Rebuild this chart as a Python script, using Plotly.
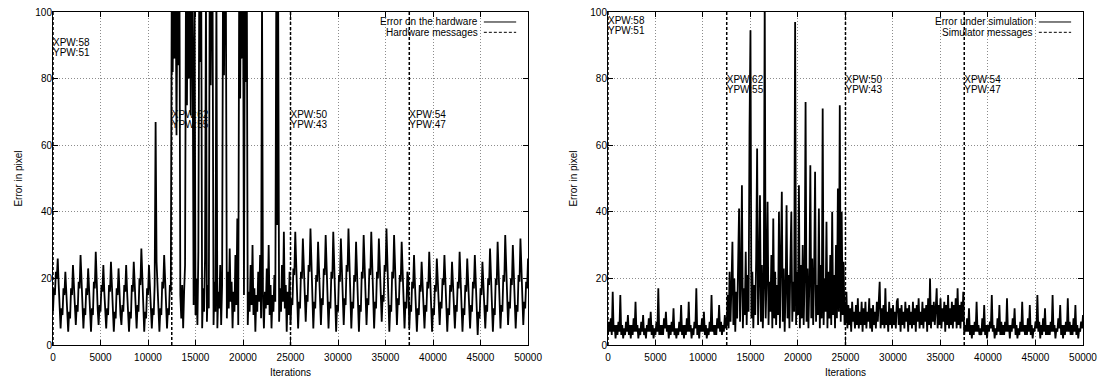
import plotly.graph_objects as go

# Error samples, one every STEP iterations (0 .. 50000), split into four
# stretches separated by the messages sent at 12500, 25000 and 37500.
STEP = 100

hardware_error_a = [
    10, 17, 15, 22, 20, 26, 18, 11,
    5, 11, 9, 17, 15, 22, 15, 10,
    4, 10, 8, 17, 15, 24, 16, 10,
    6, 12, 10, 19, 17, 27, 18, 11,
    5, 11, 9, 17, 15, 23, 15, 10,
    4, 11, 9, 19, 17, 28, 18, 11,
    6, 12, 10, 18, 16, 24, 16, 10,
    5, 11, 9, 18, 16, 25, 17, 11,
    4, 10, 8, 17, 15, 23, 15, 9,
    6, 12, 10, 18, 16, 24, 16, 10,
    4, 10, 8, 18, 16, 25, 17, 10,
    5, 12, 10, 20, 18, 29, 19, 11,
    4, 10, 8, 17, 15, 24, 16, 10,
    5, 11, 9, 18, 67, 25, 17, 10,
    4, 11, 9, 19, 17, 27, 18, 11,
    5, 11, 9, 18, 16,
]

hardware_error_b = [
    108, 82, 125, 86, 118, 63, 112, 84, 121,
    15, 8, 18, 5, 16, 24,
    112, 72, 126, 80, 118, 69, 122, 90,
    12, 108, 9,
    20, 6, 28,
    115, 85, 110,
    5, 17, 10, 26,
    106,
    7, 18, 11,
    118, 78, 124, 102,
    6, 19, 10,
    107,
    5, 16, 11, 24, 6, 18,
    114, 81, 120, 104,
    8, 22, 11, 29, 13, 19, 5, 16, 10, 27, 12, 38, 6,
    112, 74, 125, 86, 116,
    15,
    110, 79, 108,
    6, 16, 10, 24, 12, 30, 9, 17, 4, 15, 10, 22, 13, 27, 8,
    105,
    14, 5, 16, 11, 23, 12, 30, 9, 18, 5, 15, 10, 21, 13,
    106, 36, 104,
    7, 17, 10, 24, 13, 34, 11, 18, 4, 16, 9, 22,
]

hardware_error_c = [
    6, 14, 12, 23, 21, 34, 24, 15,
    5, 13, 11, 22, 20, 32, 22, 13,
    7, 15, 13, 24, 22, 35, 25, 16,
    5, 13, 11, 21, 19, 31, 21, 12,
    6, 14, 12, 23, 21, 33, 23, 14,
    5, 13, 11, 22, 20, 34, 24, 15,
    4, 12, 10, 21, 19, 32, 22, 13,
    6, 14, 12, 24, 22, 35, 25, 16,
    5, 13, 11, 21, 19, 31, 21, 12,
    4, 12, 10, 22, 20, 33, 23, 14,
    6, 14, 12, 23, 21, 34, 24, 15,
    5, 13, 11, 22, 20, 32, 22, 13,
    7, 15, 13, 24, 22, 35, 25, 16,
    4, 12, 10, 22, 20, 33, 23, 14,
    6, 14, 12, 21, 19, 31, 21, 12,
    5, 13, 11, 22, 20,
]

hardware_error_d = [
    5, 12, 10, 19, 17, 27, 18, 10,
    4, 11, 9, 18, 16, 25, 16, 8,
    5, 12, 10, 19, 17, 28, 19, 11,
    4, 11, 9, 18, 16, 26, 17, 9,
    6, 13, 11, 20, 18, 27, 18, 10,
    4, 11, 9, 18, 16, 25, 16, 8,
    5, 12, 10, 19, 17, 28, 19, 11,
    4, 11, 9, 18, 16, 26, 17, 9,
    5, 12, 10, 19, 17, 27, 18, 10,
    3, 10, 8, 17, 15, 25, 16, 8,
    5, 12, 10, 20, 18, 29, 20, 12,
    4, 11, 9, 20, 18, 31, 22, 13,
    5, 12, 10, 21, 19, 33, 24, 15,
    6, 13, 11, 20, 18, 30, 21, 12,
    5, 12, 10, 21, 19, 32, 23, 14,
    6, 13, 11, 19, 17, 26,
]

simulation_error_a = [
    3, 7, 4, 8, 3, 16, 4, 6,
    2, 6, 3, 7, 4, 15, 3, 6,
    2, 5, 3, 7, 4, 9, 3, 6,
    2, 6, 3, 8, 4, 13, 4, 6,
    2, 5, 3, 7, 4, 9, 3, 5,
    2, 6, 4, 8, 4, 10, 3, 6,
    2, 5, 3, 7, 4, 17, 3, 6,
    3, 6, 3, 8, 5, 10, 4, 6,
    2, 6, 3, 7, 4, 11, 3, 5,
    2, 5, 3, 7, 4, 12, 3, 6,
    2, 6, 3, 8, 4, 13, 4, 6,
    2, 5, 3, 7, 5, 17, 3, 6,
    2, 6, 4, 8, 4, 10, 3, 6,
    2, 5, 3, 7, 4, 15, 4, 6,
    3, 6, 3, 8, 5, 12, 4, 7,
    3, 6, 4, 9, 5,
]

simulation_error_b = [
    6, 15, 5, 22, 7, 18, 31, 6, 20, 4,
    16, 8, 25, 41, 7, 19, 48, 5, 17, 9,
    28, 6, 21, 10, 65, 94.5, 8, 22, 5, 18,
    9, 26, 59, 6, 20, 45, 7, 24, 5, 17,
    105, 8, 21, 43, 6, 19, 10, 27, 5, 38,
    8, 22, 6, 18, 9, 40, 5, 20, 46, 7,
    23, 4, 17, 42, 8, 21, 5, 25, 40, 7,
    19, 10, 97, 6, 22, 9, 48, 5, 24, 8,
    30, 6, 20, 73, 7, 23, 5, 19, 54, 8,
    26, 6, 21, 52, 7, 18, 9, 41, 5, 24,
    8, 71, 6, 20, 10, 37, 5, 22, 8, 27,
    6, 40, 9, 21, 5, 30, 8, 47, 10, 72,
    7, 40, 9, 25, 6,
]

simulation_error_c = [
    7, 16, 5, 12, 6, 11, 4, 13, 7, 10,
    5, 12, 6, 14, 5, 10, 6, 13, 4, 11,
    6, 13, 5, 10, 7, 14, 5, 11, 4, 12,
    6, 10, 5, 13, 7, 12, 19, 5, 11, 6,
    12, 5, 17, 6, 10, 4, 13, 6, 11, 5,
    12, 6, 10, 5, 13, 14, 6, 11, 4, 12,
    6, 10, 5, 13, 7, 11, 4, 12, 6, 10,
    5, 13, 6, 11, 4, 12, 7, 14, 5, 10,
    6, 13, 5, 11, 7, 12, 4, 14, 6, 20,
    5, 12, 7, 13, 6, 11, 17, 5, 12, 6,
    14, 5, 11, 7, 13, 4, 12, 6, 15, 5,
    11, 6, 13, 5, 12, 7, 14, 5, 17, 6,
    12, 5, 13, 7, 16,
]

simulation_error_d = [
    3, 6, 4, 8, 4, 11, 3, 6,
    2, 6, 3, 7, 4, 13, 4, 6,
    3, 5, 3, 8, 4, 12, 3, 6,
    2, 6, 4, 7, 5, 15, 4, 6,
    2, 5, 3, 8, 4, 12, 3, 7,
    3, 6, 3, 7, 4, 14, 4, 6,
    2, 6, 4, 8, 5, 11, 3, 6,
    2, 5, 3, 7, 4, 13, 4, 6,
    3, 6, 3, 8, 4, 12, 3, 6,
    2, 5, 4, 7, 5, 15, 4, 7,
    2, 6, 3, 8, 4, 11, 3, 6,
    3, 6, 3, 7, 4, 15, 4, 6,
    2, 5, 4, 8, 5, 12, 3, 6,
    2, 6, 3, 7, 4, 14, 4, 7,
    3, 6, 3, 8, 4, 12, 3, 6,
    2, 5, 4, 7, 5, 9,
]

hardware_error = hardware_error_a + hardware_error_b + hardware_error_c + hardware_error_d
simulation_error = simulation_error_a + simulation_error_b + simulation_error_c + simulation_error_d

# Messages sent to the device: iteration and the XPW / YPW values
message_iterations = [0, 12500, 25000, 37500]
message_xpw = [58, 62, 50, 54]
message_ypw = [51, 55, 43, 47]
hardware_label_y = [90.4, 69, 69, 69]
simulator_label_y = [97.1, 79.4, 79.4, 79.4]

x_ticks = list(range(0, 50001, 5000))
y_ticks = [0, 20, 40, 60, 80, 100]

FONT = "Liberation Sans, Arial, Helvetica, sans-serif"
LINE_GAP = 3.0  # vertical gap between the XPW and YPW lines, in data units

iterations = [STEP * i for i in range(len(hardware_error))]
sim_iterations = [STEP * i for i in range(len(simulation_error))]

panels = [
    dict(xa="x", ya="y", xs=iterations, err=hardware_error,
         err_name="Error on the hardware", msg_name="Hardware messages",
         label_y=hardware_label_y, xdom="x domain", ydom="y domain"),
    dict(xa="x2", ya="y2", xs=sim_iterations, err=simulation_error,
         err_name="Error under simulation", msg_name="Simulator messages",
         label_y=simulator_label_y, xdom="x2 domain", ydom="y2 domain"),
]

fig = go.Figure()
shapes = []
annotations = []

for p in panels:
    # message labels (drawn first so the error curve passes over them)
    tx, ty, tt = [], [], []
    for k, it in enumerate(message_iterations):
        tx += [it, it]
        ty += [p["label_y"][k], p["label_y"][k] - LINE_GAP]
        tt += [f"XPW:{message_xpw[k]}", f"YPW:{message_ypw[k]}"]
    fig.add_trace(go.Scatter(
        x=tx, y=ty, text=tt, mode="text", textposition="middle right",
        textfont=dict(size=10, color="black", family=FONT),
        xaxis=p["xa"], yaxis=p["ya"], showlegend=False, hoverinfo="skip",
        cliponaxis=False,
    ))

    # message markers as vertical dashed lines
    mx, my = [], []
    for it in message_iterations:
        mx += [it, it, None]
        my += [y_ticks[0], y_ticks[-1], None]
    fig.add_trace(go.Scatter(
        x=mx, y=my, mode="lines", name=p["msg_name"],
        line=dict(color="black", width=1.5, dash="3px,2px"),
        xaxis=p["xa"], yaxis=p["ya"], showlegend=False,
    ))

    # error curve
    fig.add_trace(go.Scatter(
        x=p["xs"], y=p["err"], mode="lines", name=p["err_name"],
        line=dict(color="black", width=1.8),
        xaxis=p["xa"], yaxis=p["ya"], showlegend=False,
    ))

    # key in the top-right corner: text right-aligned, sample on its right
    for row, (name, dash) in enumerate([(p["err_name"], "solid"), (p["msg_name"], "3px,2px")]):
        yk = 0.970 - row * 0.031
        annotations.append(dict(
            text=name, x=0.899, y=yk, xref=p["xdom"], yref=p["ydom"],
            xanchor="right", yanchor="middle", showarrow=False,
            font=dict(size=10, color="black", family=FONT),
        ))
        shapes.append(dict(
            type="line", x0=0.907, x1=0.975, y0=yk, y1=yk,
            xref=p["xdom"], yref=p["ydom"],
            line=dict(color="black", width=1, dash=dash),
        ))

axis_common = dict(
    showline=True, linecolor="black", linewidth=1, mirror="ticks",
    ticks="inside", ticklen=5, tickcolor="black", tickwidth=1,
    showgrid=True, gridcolor="#8c8c8c", griddash="1px,2px", gridwidth=1,
    zeroline=False, automargin=False,
    tickfont=dict(size=10, color="black", family=FONT),
)

def x_axis(domain, anchor):
    return dict(axis_common, domain=domain, anchor=anchor, range=[0, 50000],
                tickmode="array", tickvals=x_ticks, ticktext=[str(v) for v in x_ticks],
                ticklabelstandoff=3,
                title=dict(text="Iterations", font=dict(size=10, color="black", family=FONT),
                           standoff=6))

def y_axis(anchor):
    return dict(axis_common, anchor=anchor, domain=[0, 1], range=[0, 100],
                tickmode="array", tickvals=y_ticks, ticktext=[str(v) for v in y_ticks],
                ticklabelstandoff=-2,
                title=dict(text="Error in pixel", font=dict(size=10, color="black", family=FONT),
                           standoff=10))

fig.update_layout(
    width=1105, height=380,
    margin=dict(l=53, r=22, t=12, b=35, autoexpand=False),
    paper_bgcolor="white", plot_bgcolor="white",
    xaxis=x_axis([0, 0.4612], "y"),
    yaxis=y_axis("x"),
    xaxis2=x_axis([0.5388, 1], "y2"),
    yaxis2=y_axis("x2"),
    shapes=shapes,
    annotations=annotations,
    showlegend=False,
)

fig.write_html("out.html")
